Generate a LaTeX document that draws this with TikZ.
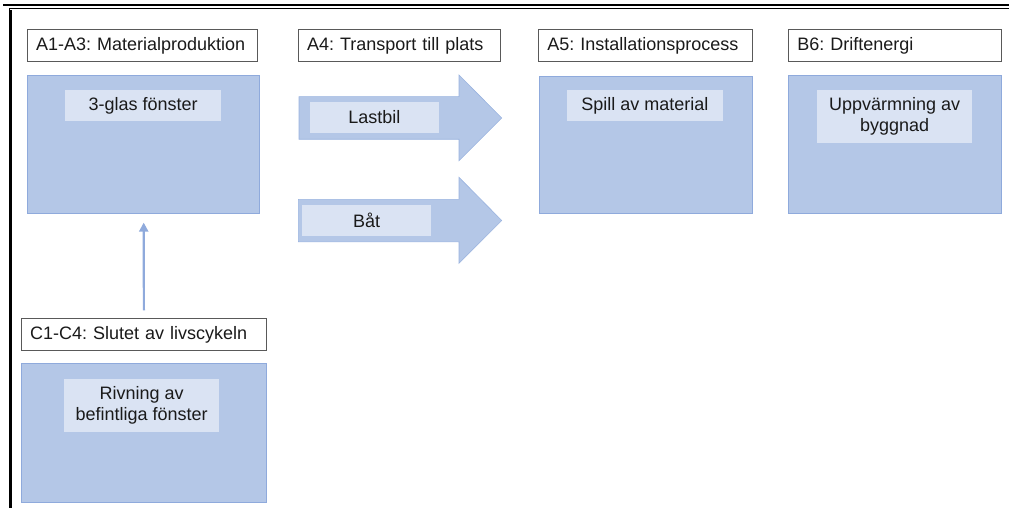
\documentclass[tikz,border=0pt]{standalone}
\usepackage{fontspec}
\setmainfont{Liberation Sans}
\usetikzlibrary{arrows.meta}
\definecolor{bfill}{HTML}{B4C7E7}
\definecolor{bline}{HTML}{8FAADC}
\definecolor{ifill}{HTML}{DAE3F3}
\definecolor{lbord}{HTML}{595959}
\definecolor{txt}{HTML}{1A1A1A}
\frenchspacing
\begin{document}
\begin{tikzpicture}[x=1pt,y=-1pt,
  font=\fontsize{18}{20.5}\selectfont\frenchspacing, text=txt,
  lab/.style={draw=lbord, line width=1.1pt, fill=white, anchor=north west,
    inner xsep=8.5pt, inner ysep=0pt, align=left, minimum height=32pt},
  stage/.style={draw=bline, line width=0.8pt, fill=bfill, anchor=north west, inner sep=0pt},
  inner/.style={fill=ifill, anchor=north west, inner sep=0pt, align=center},
  transport/.style={fill=bfill, draw=bline!70!bfill, line width=0.6pt},
  conn/.style={draw=bline, line width=2.2pt, -{Triangle[length=9pt,width=9pt]}},
  frame/.style={draw=black}]
\useasboundingbox (0,0) rectangle (1009,508);
% frame lines
\draw[frame, line width=1.8pt] (3,5.2) -- (1009,5.2);
\draw[frame, line width=0.9pt] (9.2,8.4) -- (1009,8.4);
\draw[frame, line width=0.9pt] (9.2,8.4) -- (9.2,508);
\draw[frame, line width=1.3pt] (11,10.5) -- (11,508);
% stage labels
\node[lab, text width=213pt] (la) at (27,29.3) {A1-A3: Materialproduktion};
\node[lab, text width=185pt] (lt) at (298,29.3) {A4: Transport till plats};
\node[lab, text width=196.4pt] (li) at (538.3,29.3) {A5: Installationsprocess};
\node[lab, text width=195.7pt] (lb) at (788.3,29.3) {B6: Driftenergi};
\node[lab, text width=227.7pt] (lc) at (21,318.3) {C1-C4: Slutet av livscykeln};
% stage boxes
\node[stage, minimum width=232pt, minimum height=138.3pt] (sa) at (27.3,75) {};
\node[stage, minimum width=213pt, minimum height=136.7pt] (si) at (538.7,76) {};
\node[stage, minimum width=212.7pt, minimum height=137.4pt] (sb) at (788.3,75.3) {};
\node[stage, minimum width=244.7pt, minimum height=139pt] (sc) at (21,362.7) {};
% transport arrows
\path[transport] (299,96.7) -- (459,96.7) -- (459,75) -- (501.7,118) -- (459,160.7) -- (459,139.3) -- (299,139.3) -- cycle;
\path[transport] (298.3,199.3) -- (459,199.3) -- (459,177.3) -- (501.7,220.5) -- (459,263.3) -- (459,241.7) -- (298.3,241.7) -- cycle;
% inner boxes
\node[inner, minimum width=155.7pt, minimum height=31pt] (ia) at (65,90) {3-glas fönster};
\node[inner, minimum width=128.3pt, minimum height=31pt] (il) at (310,101.7) {Lastbil};
\node[inner, minimum width=129.3pt, minimum height=31.7pt] (ib) at (301.7,204.3) {Båt};
\node[inner, minimum width=156pt, minimum height=31pt] (is) at (566.7,90) {Spill av material};
\node[inner, minimum width=155.3pt, minimum height=52.7pt] (iu) at (816.7,90) {Uppvärmning av\\byggnad};
\node[inner, minimum width=155pt, minimum height=53.4pt] (ir) at (64,378.3) {Rivning av\\befintliga fönster};
% connector
\draw[conn] ([yshift=8pt]lc.north) -- ([yshift=-8.5pt]sa.south);
\end{tikzpicture}
\end{document}
